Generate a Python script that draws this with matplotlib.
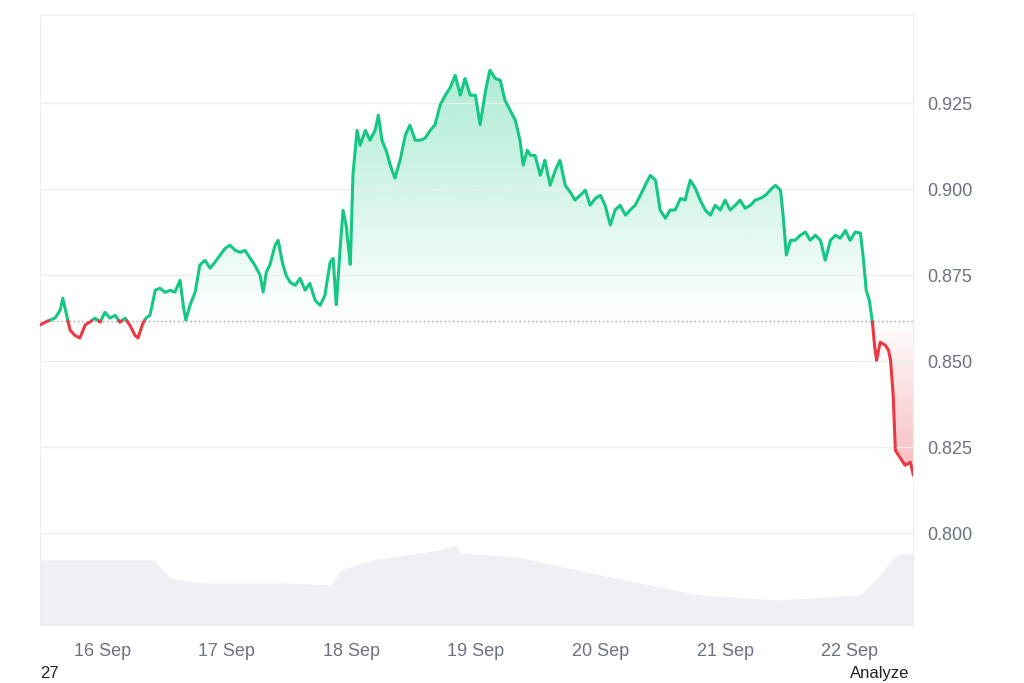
import numpy as np
import matplotlib
matplotlib.use('Agg')
import matplotlib.pyplot as plt
from matplotlib.patches import Polygon
from datetime import datetime, timedelta
import matplotlib.dates as mdates

plt.rcParams['font.family'] = ['Liberation Sans', 'DejaVu Sans']

# hours after 15 Sep 00:00
hours = [12.0, 13.0, 13.9, 14.9, 15.9, 16.4, 17.0, 17.8, 18.7, 19.7, 20.7, 21.6, 22.6, 23.6,
         24.5, 25.5, 26.5, 27.4, 28.4, 29.3, 30.3, 30.9, 31.7, 32.4, 33.2, 34.2, 35.1, 36.1,
         37.1, 38.0, 39.0, 39.6, 40.1, 40.9, 41.9, 42.8, 43.8, 44.8, 45.7, 46.7, 47.7, 48.6,
         49.6, 50.6, 51.5, 52.5, 53.4, 54.4, 55.0, 55.6, 56.3, 57.3, 57.9, 58.7, 59.4, 60.2,
         61.2, 62.1, 63.1, 64.0, 65.0, 66.0, 66.9, 67.9, 68.5, 69.1, 69.8, 70.4, 71.0, 71.8,
         72.3, 73.1, 73.7, 74.7, 75.6, 76.6, 77.2, 77.9, 78.7, 79.5, 80.4, 81.4, 82.4, 83.3,
         84.3, 85.3, 86.2, 87.2, 88.1, 89.1, 90.1, 91.0, 92.0, 93.0, 93.9, 94.9, 95.9, 96.8,
         97.8, 98.7, 99.7, 100.7, 101.6, 102.6, 103.6, 104.5, 105.1, 105.9, 106.5, 107.4,
         108.4, 109.3, 110.3, 111.3, 112.2, 113.2, 114.2, 115.1, 116.1, 117.1, 118.0, 119.0,
         120.0, 120.9, 121.9, 122.8, 123.8, 124.8, 125.7, 126.7, 127.7, 128.6, 129.6, 130.6,
         131.5, 132.5, 133.4, 134.4, 135.4, 136.3, 137.3, 138.3, 139.2, 140.2, 141.2, 142.1,
         143.1, 144.0, 145.0, 146.0, 146.9, 147.9, 148.9, 149.8, 150.8, 151.8, 152.7, 153.7,
         154.7, 155.2, 155.8, 156.6, 157.5, 158.5, 159.5, 160.4, 161.4, 162.4, 163.3, 164.3,
         165.3, 166.2, 167.2, 168.1, 169.1, 170.1, 170.6, 171.2, 171.8, 172.4, 172.8, 173.2,
         173.9, 174.9, 175.5, 175.9, 176.4, 176.8, 177.8, 178.7, 179.7, 180.3]
prices = [0.8605, 0.8613, 0.8619, 0.8625, 0.8648, 0.8683, 0.8642, 0.8590, 0.8575, 0.8567,
          0.8605, 0.8613, 0.8625, 0.8613, 0.8642, 0.8625, 0.8633, 0.8613, 0.8625, 0.8605,
          0.8575, 0.8567, 0.8605, 0.8625, 0.8633, 0.8706, 0.8712, 0.8700, 0.8706, 0.8700,
          0.8735, 0.8662, 0.8619, 0.8662, 0.8700, 0.8779, 0.8793, 0.8770, 0.8787, 0.8808,
          0.8828, 0.8837, 0.8822, 0.8816, 0.8822, 0.8799, 0.8779, 0.8750, 0.8700, 0.8758,
          0.8779, 0.8837, 0.8851, 0.8787, 0.8750, 0.8729, 0.8720, 0.8741, 0.8706, 0.8726,
          0.8677, 0.8662, 0.8691, 0.8787, 0.8799, 0.8662, 0.8822, 0.8939, 0.8895, 0.8779,
          0.9040, 0.9171, 0.9127, 0.9171, 0.9142, 0.9171, 0.9215, 0.9142, 0.9113, 0.9069,
          0.9032, 0.9084, 0.9157, 0.9186, 0.9142, 0.9142, 0.9148, 0.9171, 0.9186, 0.9244,
          0.9273, 0.9293, 0.9331, 0.9273, 0.9322, 0.9273, 0.9273, 0.9186, 0.9282, 0.9346,
          0.9322, 0.9316, 0.9258, 0.9229, 0.9200, 0.9142, 0.9069, 0.9113, 0.9098, 0.9098,
          0.9040, 0.9084, 0.9011, 0.9055, 0.9084, 0.9011, 0.8991, 0.8968, 0.8982, 0.8997,
          0.8953, 0.8973, 0.8982, 0.8953, 0.8895, 0.8939, 0.8953, 0.8924, 0.8939, 0.8953,
          0.8982, 0.9011, 0.9040, 0.9026, 0.8939, 0.8915, 0.8939, 0.8939, 0.8973, 0.8968,
          0.9026, 0.9002, 0.8968, 0.8939, 0.8924, 0.8953, 0.8939, 0.8968, 0.8939, 0.8953,
          0.8968, 0.8944, 0.8953, 0.8968, 0.8973, 0.8982, 0.8997, 0.9011, 0.8997, 0.8924,
          0.8808, 0.8851, 0.8851, 0.8866, 0.8875, 0.8851, 0.8866, 0.8851, 0.8793, 0.8851,
          0.8866, 0.8857, 0.8880, 0.8851, 0.8875, 0.8872, 0.8808, 0.8706, 0.8677, 0.8613,
          0.8546, 0.8502, 0.8555, 0.8546, 0.8532, 0.8502, 0.8401, 0.8241, 0.8218, 0.8197,
          0.8206, 0.8168]
baseline = 0.8617

vol_hours = [12, 34, 37, 43, 59, 68, 70, 76, 89, 92, 93, 104, 120, 139, 154, 170, 173, 177, 180.3]
volumes = [130, 130, 94, 84, 84, 80, 110, 130, 150, 160, 144, 136, 100, 60, 50, 60, 90, 140, 144]

GREEN = '#16c784'
RED = '#ea3943'

t0 = datetime(2024, 9, 15)
h = np.array(hours)
p = np.array(prices)
hf = np.linspace(h[0], h[-1], 6000)
pf = np.interp(hf, h, p)
tf = mdates.date2num([t0 + timedelta(hours=float(x)) for x in hf])
tv = mdates.date2num([t0 + timedelta(hours=float(x)) for x in vol_hours])

fig = plt.figure(figsize=(10.24, 6.83), dpi=100)
ax = fig.add_axes([0.039, 0.085, 0.853, 0.893])
ax2 = ax.twinx()
ax2.fill_between(tv, 0, volumes, color='#eef0f3', lw=0, zorder=0)
ax2.set_ylim(0, 1220)
ax2.set_yticks([])
ax2.set_zorder(0)
ax.set_zorder(1)
ax.patch.set_visible(False)

ymin, ymax = 0.7733, 0.9506
xmin, xmax = tf[0], tf[-1]

# gradient fills clipped to the area between line and baseline
for above, col in [(True, GREEN), (False, RED)]:
    pc = np.maximum(pf, baseline) if above else np.minimum(pf, baseline)
    verts = np.column_stack([np.r_[tf, tf[::-1]], np.r_[pc, np.full_like(pc, baseline)]])
    poly = Polygon(verts, closed=True, facecolor='none', edgecolor='none')
    ax.add_patch(poly)
    rgb = matplotlib.colors.to_rgb(col)
    grad = np.zeros((256, 1, 4))
    grad[..., :3] = rgb
    a = np.linspace(0.0, 0.35, 256)
    grad[:, 0, 3] = a if above else a[::-1]
    ext = [xmin, xmax, baseline, pf.max()] if above else [xmin, xmax, pf.min(), baseline]
    im = ax.imshow(grad, aspect='auto', extent=ext, origin='lower', zorder=1)
    im.set_clip_path(poly)

up = np.ma.masked_where(pf < baseline, pf)
dn = np.ma.masked_where(pf > baseline, pf)
ax.plot(tf, up, color=GREEN, lw=2.2, zorder=3, solid_capstyle='round')
ax.plot(tf, dn, color=RED, lw=2.2, zorder=3, solid_capstyle='round')
ax.axhline(baseline, color='#9aa0a6', lw=1, ls=(0, (1, 2)), zorder=2)

ax.set_xlim(xmin, xmax)
ax.set_ylim(ymin, ymax)
ax.yaxis.tick_right()
ax.set_yticks([0.800, 0.825, 0.850, 0.875, 0.900, 0.925])
ax.set_yticklabels(['0.800', '0.825', '0.850', '0.875', '0.900', '0.925'])
ax.grid(axis='y', color='#eceef1', lw=1)
ax.set_xticks(mdates.date2num([datetime(2024, 9, d) for d in range(16, 23)]))
ax.set_xticklabels([f'{d} Sep' for d in range(16, 23)])
ax.tick_params(length=0, colors='#6b7280', labelsize=13)
ax.tick_params(axis='x', pad=13)
ax.tick_params(axis='y', pad=10)
for s in ax.spines.values():
    s.set_color('#eceef1')
for s in ax2.spines.values():
    s.set_visible(False)

fig.text(0.039, 0.003, '27', fontsize=12, color='#222222', va='bottom')
fig.text(0.888, 0.003, 'Analyze', fontsize=12, color='#222222', va='bottom', ha='right')

fig.savefig('out.png', dpi=100)
